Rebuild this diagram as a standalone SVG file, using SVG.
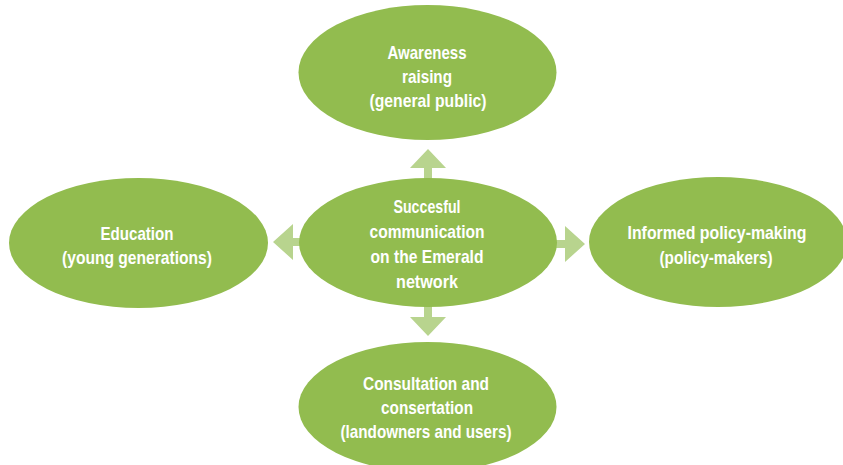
<svg xmlns="http://www.w3.org/2000/svg" width="843" height="465" viewBox="0 0 843 465">
<style>
.node{fill:#92bc4f}
.arrow{fill:#b8d48e}
.t{font-family:"Liberation Sans",Arial,sans-serif;font-weight:bold;font-size:19px;fill:#ffffff;text-anchor:middle}
</style>
<rect width="843" height="465" fill="#ffffff"/>
<g id="connectors">
<polygon class="arrow" points="428,149 446,168 432,168 432,182 424,182 424,168 410,168"/>
<polygon class="arrow" points="424,303 432,303 432,317 446,317 428,336 410,317 424,317"/>
<polygon class="arrow" points="553,240 565,240 565,226 585,244 565,262 565,248 553,248"/>
<polygon class="arrow" points="273,242 293,224 293,238 303,238 303,246 293,246 293,260"/>
</g>
<g id="node-awareness">
<ellipse class="node" cx="427.5" cy="72.5" rx="129" ry="67.5"/>
<text class="t" x="427" y="59" textLength="79" lengthAdjust="spacingAndGlyphs">Awareness</text>
<text class="t" x="427" y="83" textLength="50" lengthAdjust="spacingAndGlyphs">raising</text>
<text class="t" x="428" y="107" textLength="117" lengthAdjust="spacingAndGlyphs">(general public)</text>
</g>
<g id="node-center">
<ellipse class="node" cx="428" cy="242.5" rx="129" ry="64.5"/>
<text class="t" x="427" y="213" textLength="67" lengthAdjust="spacingAndGlyphs">Succesful</text>
<text class="t" x="427" y="238" textLength="115" lengthAdjust="spacingAndGlyphs">communication</text>
<text class="t" x="427" y="263" textLength="113" lengthAdjust="spacingAndGlyphs">on the Emerald</text>
<text class="t" x="427" y="288" textLength="62" lengthAdjust="spacingAndGlyphs">network</text>
</g>
<g id="node-education">
<ellipse class="node" cx="138.5" cy="243" rx="129.5" ry="65"/>
<text class="t" x="137" y="240" textLength="73" lengthAdjust="spacingAndGlyphs">Education</text>
<text class="t" x="137" y="264" textLength="150" lengthAdjust="spacingAndGlyphs">(young generations)</text>
</g>
<g id="node-policy">
<ellipse class="node" cx="718" cy="242" rx="129" ry="65"/>
<text class="t" x="717" y="239" textLength="179" lengthAdjust="spacingAndGlyphs">Informed policy-making</text>
<text class="t" x="716" y="264" textLength="113" lengthAdjust="spacingAndGlyphs">(policy-makers)</text>
</g>
<g id="node-consultation">
<ellipse class="node" cx="427.5" cy="407" rx="129" ry="65"/>
<text class="t" x="426" y="390" textLength="126" lengthAdjust="spacingAndGlyphs">Consultation and</text>
<text class="t" x="427" y="414" textLength="92" lengthAdjust="spacingAndGlyphs">consertation</text>
<text class="t" x="426" y="438" textLength="171" lengthAdjust="spacingAndGlyphs">(landowners and users)</text>
</g>
</svg>
